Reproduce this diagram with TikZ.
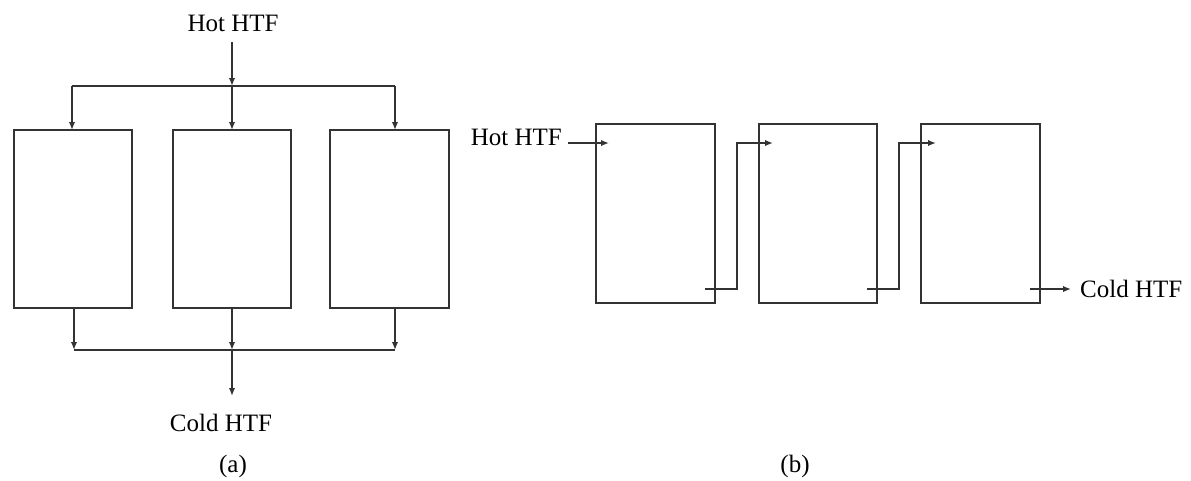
\documentclass[tikz,border=0pt]{standalone}
\usepackage{fontspec}
\setmainfont{Liberation Serif}
\usetikzlibrary{arrows.meta}
\begin{document}
\begin{tikzpicture}[x=1pt,y=-1pt,
  line/.style={draw=black!80,line width=2pt},
  flow/.style={line,-{Latex[length=8pt,width=6.5pt]}},
  unit/.style={line,minimum width=118pt,minimum height=178pt,inner sep=0pt,outer sep=0pt,anchor=north west},
  lbl/.style={font=\fontsize{25}{29}\selectfont,inner sep=0pt,anchor=base}]
\useasboundingbox (0,0) rectangle (1191,480);

% ---------- (a) parallel arrangement ----------
\node[lbl] (hotA) at (233,31) {Hot HTF};
\node[unit] (A1) at (14,130) {};
\node[unit] (A2) at (173,130) {};
\node[unit,minimum width=119pt] (A3) at (330,130) {};

\coordinate (inA) at (232,42);
\coordinate (jt) at (232,86);
\coordinate (jb) at (232,350);
\coordinate (outA) at (232,396);

\draw[flow] (inA) -- (jt);
\draw[line] (72,86) -- (395,86);
\draw[flow] (jt) -- (jt |- A2.north);
\draw[flow] (jt -| 72,0) -- (A1.north west -| 72,0);
\draw[flow] (jt -| 395,0) -- (A3.north west -| 395,0);

\draw[flow] (A1.south west -| 74,0) -- (jb -| 74,0);
\draw[flow] (jb |- A2.south) -- (jb);
\draw[flow] (A3.south west -| 395,0) -- (jb -| 395,0);
\draw[line] (74,350) -- (395,350);
\draw[flow] (jb) -- (outA);

\node[lbl] (coldA) at (221,431) {Cold HTF};
\node[lbl] (capA) at (233,472) {(a)};

% ---------- (b) series arrangement ----------
\node[unit,minimum width=119pt,minimum height=179pt] (B1) at (596,124) {};
\node[unit,minimum height=179pt] (B2) at (759,124) {};
\node[unit,minimum width=119pt,minimum height=179pt] (B3) at (921,124) {};

\node[lbl,anchor=base east] (hotB) at (562,145) {Hot HTF};
\coordinate (inB) at (568,143);
\draw[flow] (inB) -- (609,143);

\coordinate (o1) at (705,289);
\coordinate (i2) at (773,143);
\draw[flow] (o1) -- (737,289) -- (737,143) -- (i2);

\coordinate (o2) at (867,289);
\coordinate (i3) at (936,143);
\draw[flow] (o2) -- (899,289) -- (899,143) -- (i3);

\coordinate (o3) at (1030,289);
\coordinate (outB) at (1071,289);
\draw[flow] (o3) -- (outB);
\node[lbl,anchor=base west] (coldB) at (1080,297) {Cold HTF};

\node[lbl] (capB) at (795,472) {(b)};
\end{tikzpicture}
\end{document}
